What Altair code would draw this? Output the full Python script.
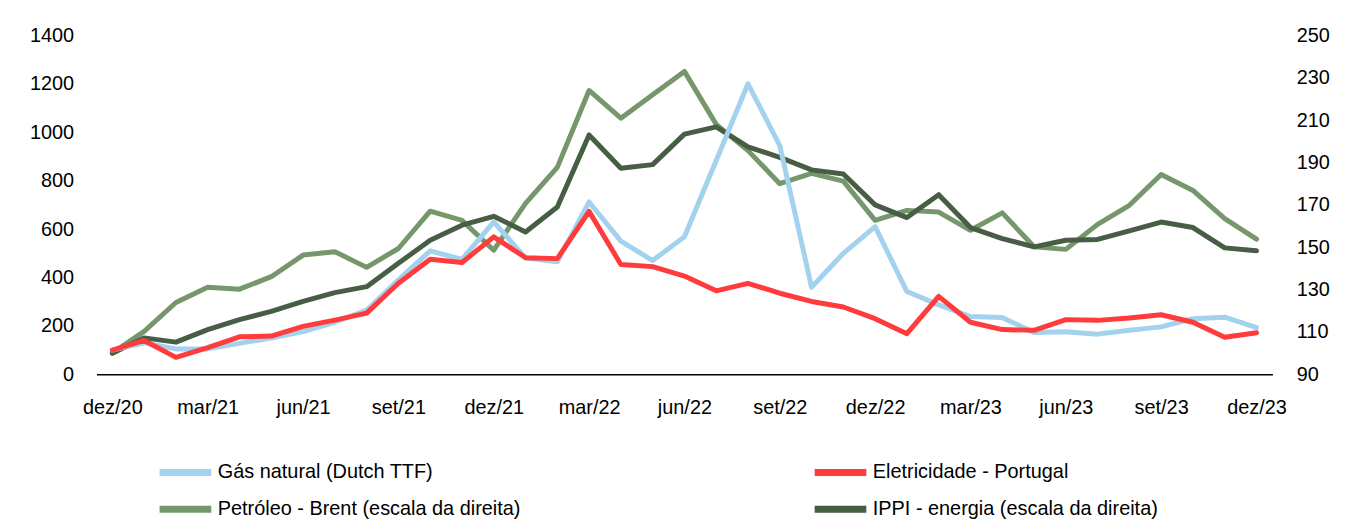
import altair as alt
import pandas as pd

meses = ["dez/20",
         "jan/21", "fev/21", "mar/21", "abr/21", "mai/21", "jun/21",
         "jul/21", "ago/21", "set/21", "out/21", "nov/21", "dez/21",
         "jan/22", "fev/22", "mar/22", "abr/22", "mai/22", "jun/22",
         "jul/22", "ago/22", "set/22", "out/22", "nov/22", "dez/22",
         "jan/23", "fev/23", "mar/23", "abr/23", "mai/23", "jun/23",
         "jul/23", "ago/23", "set/23", "out/23", "nov/23", "dez/23"]
rotulos_x = ["dez/20", "mar/21", "jun/21", "set/21", "dez/21", "mar/22", "jun/22",
             "set/22", "dez/22", "mar/23", "jun/23", "set/23", "dez/23"]

gas = [100, 130, 105, 105, 128, 150, 177, 215, 265, 390, 510, 475, 630,
       480, 465, 712, 550, 470, 568, 883, 1200, 945, 360, 500, 610,
       342, 287, 239, 235, 173, 176, 166, 182, 196, 230, 236, 193]
eletricidade = [100, 140, 70, 110, 155, 158, 198, 224, 253, 376, 475, 462, 568,
                482, 478, 673, 454, 445, 406, 345, 376, 335, 301, 278, 230,
                168, 322, 215, 185, 182, 226, 223, 233, 246, 215, 153, 172]
brent = [100, 110.3, 123.9, 131.1, 130.2, 136.1, 146.3, 147.9, 140.5, 149.4, 167.0, 162.7, 148.6,
         170.7, 187.7, 224.0, 210.9, 222.0, 233.0, 208.0, 195.6, 180.0, 184.9, 181.2, 162.7,
         167.4, 166.6, 158.0, 166.2, 150.2, 149.0, 160.8, 169.8, 184.3, 176.8, 163.5, 153.8]
ippi = [100, 107.2, 105.2, 111.1, 115.8, 119.7, 124.4, 128.6, 131.4, 142.4, 153.3, 160.4, 164.6,
        157.2, 169.0, 203.0, 187.3, 189.0, 203.4, 206.8, 197.4, 192.4, 186.5, 184.6, 170.0,
        164.0, 174.8, 159.3, 154.1, 150.2, 153.3, 153.7, 157.7, 161.9, 159.3, 149.7, 148.3]

series = ["Gás natural (Dutch TTF)", "Eletricidade - Portugal",
          "Petróleo - Brent (escala da direita)", "IPPI - energia (escala da direita)"]
cores = ["#a3d2ee", "#ff3b3b", "#76966b", "#475e45"]

rows = []
for nome, vals in zip(series, [gas, eletricidade, brent, ippi]):
    for m, v in zip(meses, vals):
        rows.append({"mes": m, "valor": v, "serie": nome})
df = pd.DataFrame(rows)

FONT = "Liberation Sans"

x_enc = alt.X("mes:N", sort=meses,
              scale=alt.Scale(type="point", padding=0.5),
              axis=alt.Axis(values=rotulos_x, title=None, labelAngle=0, ticks=False, tickSize=0,
                            labelPadding=23, labelFontSize=20, labelFont=FONT, labelColor="#000",
                            domainColor="#000", domainWidth=1.5, grid=False))


def legenda(y, col_pad):
    return alt.Legend(title=None, orient="none", legendX=76, legendY=y,
                      columns=2, direction="horizontal",
                      symbolType="M-2.6,0H2.6", symbolSize=400,
                      symbolStrokeWidth=7, labelFontSize=20, labelFont=FONT,
                      labelColor="#000", labelLimit=600, columnPadding=col_pad,
                      labelOffset=19)


color_left = alt.Color("serie:N", sort=series[:2],
                       scale=alt.Scale(domain=series[:2], range=cores[:2]),
                       legend=legenda(426, 369))
color_right = alt.Color("serie:N", sort=series[2:],
                        scale=alt.Scale(domain=series[2:], range=cores[2:]),
                        legend=legenda(463, 281))

y_left = alt.Y("valor:Q", scale=alt.Scale(domain=[0, 1400], nice=False, zero=False),
               axis=alt.Axis(orient="left", values=[0, 200, 400, 600, 800, 1000, 1200, 1400],
                             format="d", title=None, ticks=False, tickSize=0, domain=False, grid=False,
                             labelPadding=23, labelFontSize=20, labelFont=FONT, labelColor="#000"))
y_right = alt.Y("valor:Q", scale=alt.Scale(domain=[90, 250], nice=False, zero=False),
                axis=alt.Axis(orient="right", values=[90, 110, 130, 150, 170, 190, 210, 230, 250],
                              format="d", title=None, ticks=False, tickSize=0, domain=False, grid=False,
                              labelPadding=24, labelFontSize=20, labelFont=FONT, labelColor="#000"))


def linha(nome, y_enc, c_enc):
    return alt.Chart(df).transform_filter(alt.datum.serie == nome).mark_line(
        strokeWidth=5, strokeCap="round", strokeJoin="round"
    ).encode(x=x_enc, y=y_enc, color=c_enc)


direita = alt.layer(linha(series[2], y_right, color_right), linha(series[3], y_right, color_right))
esquerda = alt.layer(linha(series[0], y_left, color_left), linha(series[1], y_left, color_left))

chart = alt.layer(direita, esquerda).resolve_scale(y="independent", color="independent").properties(
    width=1183, height=341,
    padding={"left": 89, "top": 26, "right": 66, "bottom": 148},
    autosize=alt.AutoSizeParams(type="none"),
    background="white",
).configure_view(stroke=None)

chart.save("out.html", embed_options={"renderer": "svg", "actions": False})
